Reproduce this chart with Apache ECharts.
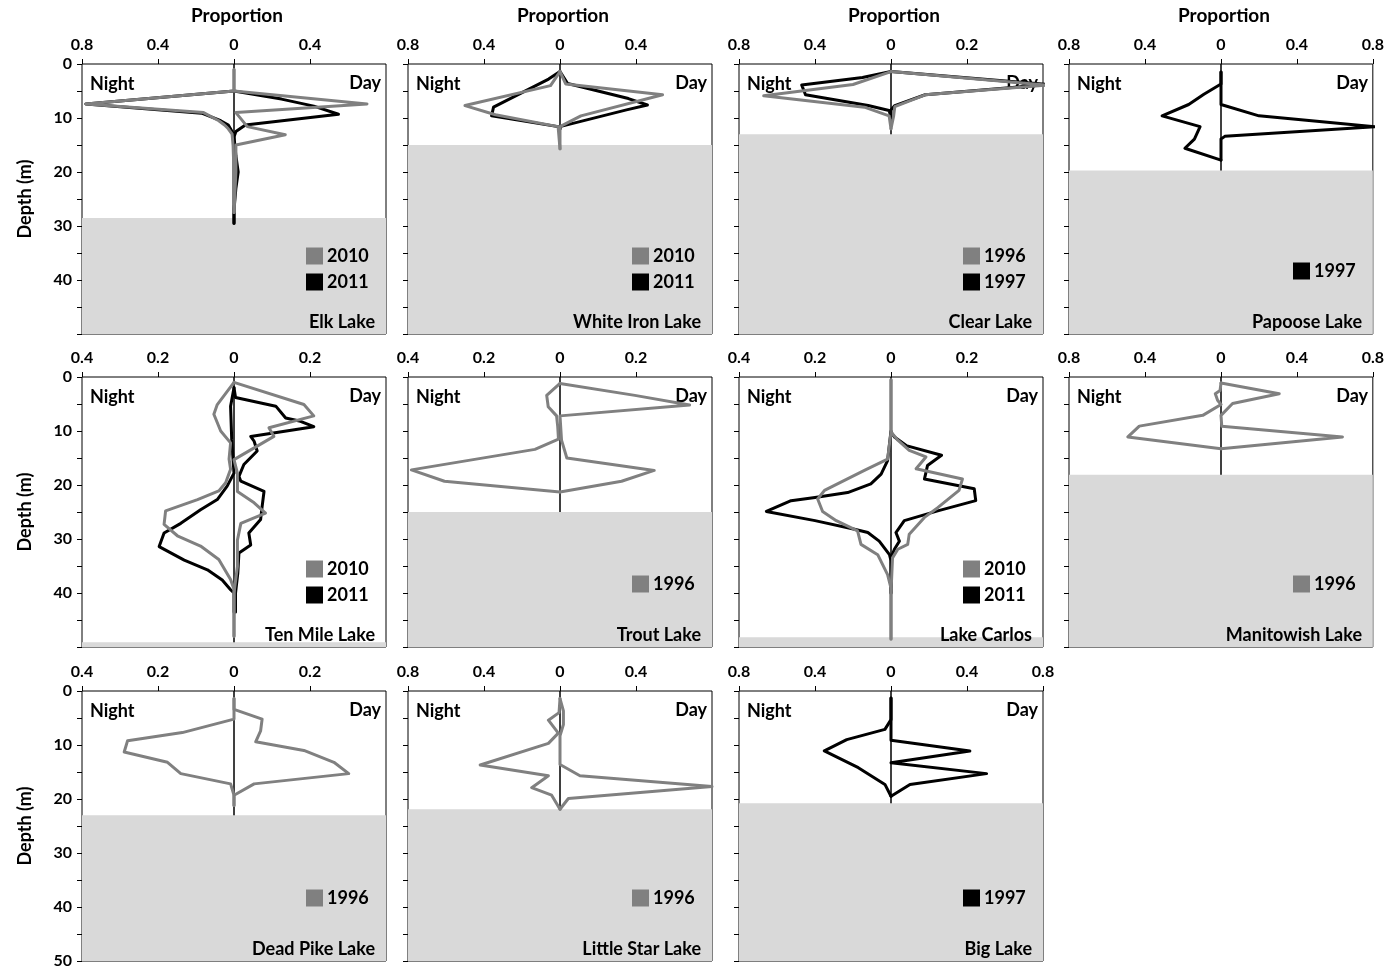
<!DOCTYPE html>
<html><head><meta charset="utf-8">
<script src="https://cdn.jsdelivr.net/npm/echarts@6/dist/echarts.min.js"></script>
<style>html,body{margin:0;padding:0;background:#fff}#chart{width:1387px;height:972px}</style>
</head><body><div id="chart"></div>
<script>
// ---------------- DATA ----------------
// Each profile: [depth (m), proportion]
const lakes = ['Elk Lake','White Iron Lake','Clear Lake','Papoose Lake','Ten Mile Lake','Trout Lake','Lake Carlos','Manitowish Lake','Dead Pike Lake','Little Star Lake','Big Lake'];
const nightMax = [0.8,0.8,0.8,0.8,0.4,0.4,0.4,0.8,0.4,0.8,0.8];
const dayMax   = [0.8,0.8,0.4,0.8,0.4,0.4,0.4,0.8,0.4,0.8,0.8];
const shadedFromDepth = [28.5,15,13,19.7,49.1,25,48.2,18.1,23,21.9,20.8];
const legendYears = [['2010','2011'],['2010','2011'],['1996','1997'],['1997'],['2010','2011'],['1996'],['2010','2011'],['1996'],['1996'],['1996'],['1997']];
const depthTicks = [0,10,20,30,40,50];

const elk2010Night = [[1,0],[5,0],[7.4,0.78],[9,0.16],[10.5,0.08],[11.3,0.05],[12,0.03],[13,0.01],[15,0.005],[20,0],[27.5,0]];
const elk2011Night = [[5,0],[7.4,0.78],[9.1,0.17],[10.5,0.07],[11.3,0.03],[12.5,0.01],[13.5,0],[20,0],[29.5,0]];
const elk2010Day = [[1,0],[5,0],[7.4,0.70],[9,0.01],[11.6,0.07],[13.1,0.27],[15,0.01],[20,0.01],[27.5,0]];
const elk2011Day = [[5,0],[6.5,0.25],[7.8,0.42],[9.3,0.55],[11.3,0.06],[12.5,0.01],[13.5,0],[17,0.01],[20,0.022],[23,0.01],[27,0],[29.5,0]];

const wi2010Night = [[1.4,0],[4,0.05],[7.7,0.5],[9.4,0.34],[11.6,0.01],[15.7,0]];
const wi2011Night = [[1.4,0],[2.8,0.06],[8,0.35],[9.6,0.36],[11.6,0.01],[12,0]];
const wi2010Day = [[1.4,0],[3.7,0.03],[5.7,0.54],[9.6,0.11],[11.6,0],[15.7,0]];
const wi2011Day = [[1.4,0],[3.6,0.04],[6.4,0.36],[7.6,0.46],[8.5,0.35],[11.6,0],[12,0]];

const cl1996Night = [[1.4,0],[3.8,0.2],[5.9,0.67],[8,0.14],[9.6,0.01],[12,0]];
const cl1997Night = [[1.4,0],[2.5,0.15],[3.9,0.47],[5.7,0.45],[7.7,0.12],[8.6,0.01],[9.9,0]];
const cl1996Day = [[1.4,0],[3.9,0.41],[5.7,0.09],[7.9,0.01],[9.6,0.007],[12,0]];
const cl1997Day = [[1.4,0],[3.8,0.41],[5.7,0.09],[7.7,0.01],[8.5,0],[9.9,0]];

const pa1997Night = [[1.5,0],[3.7,0],[5.6,0.09],[7.5,0.17],[9.6,0.31],[11.6,0.11],[13.9,0.14],[15.6,0.19],[17.8,0]];
const pa1997Day = [[1.5,0],[7.5,0],[9.6,0.2],[11.6,0.81],[13.4,0.02],[13.9,0],[17.8,0]];

const tm2010Night = [[1,0],[5.1,0.044],[6.9,0.053],[10,0.035],[12.2,0.009],[15.2,0.013],[17.1,0.009],[19.6,0.022],[21.1,0.04],[22.7,0.096],[24.8,0.18],[27.3,0.184],[29.4,0.149],[31.3,0.088],[33.8,0.04],[37.5,0.009],[39.3,0],[48,0]];
const tm2011Night = [[2,0],[5.4,0.009],[11.6,0.006],[17.8,0],[20.2,0.018],[22.7,0.044],[24.6,0.088],[27.1,0.14],[28.9,0.184],[31.4,0.197],[33.9,0.131],[35.7,0.07],[37.6,0.031],[39.4,0.009],[40,0],[43.5,0]];
const tm2010Day = [[1,0],[5.1,0.184],[7.2,0.21],[9.4,0.092],[11,0.105],[12.8,0.061],[15.3,0],[17.8,0.009],[21.2,0.009],[23.3,0.053],[25.2,0.083],[27.1,0.018],[30.2,0.009],[35.1,0.009],[40,0],[48,0]];
const tm2011Day = [[2,0],[3.8,0.004],[5.4,0.11],[7.6,0.136],[8.2,0.175],[9.2,0.21],[11,0.044],[11.9,0.053],[13.7,0.061],[16.2,0.026],[18.4,0.013],[19.3,0.018],[21.2,0.079],[24,0.074],[26.4,0.07],[28.9,0.039],[31.1,0.044],[32.6,0.013],[36.3,0.01],[40,0.004],[43.5,0.004]];

const tr1996Night = [[1.2,0],[3.4,0.035],[5.5,0.031],[7.2,0.009],[9.2,0.006],[11.5,0.004],[13.4,0.066],[17.2,0.391],[19.3,0.304],[21.3,0]];
const tr1996Day = [[1.2,0],[3.4,0.197],[5.2,0.341],[7.2,0],[11.7,0.004],[15,0.018],[17.3,0.248],[19.3,0.162],[21.3,0]];

const lc2010Night = [[0.5,0],[10.2,0],[15.2,0.009],[17.3,0.07],[21,0.175],[22.6,0.193],[24.9,0.18],[26.6,0.144],[28.5,0.088],[31,0.079],[32.9,0.035],[36.6,0.009],[39.1,0],[48.5,0]];
const lc2011Night = [[10,0],[15.5,0.009],[18,0.026],[19.8,0.053],[21.4,0.114],[22.3,0.2],[22.9,0.263],[24.9,0.328],[26.6,0.2],[28.2,0.096],[28.8,0.061],[30.4,0.031],[32.9,0.004],[34,0],[40,0]];
const lc2010Day = [[0.5,0],[10.2,0],[11.7,0.018],[13.6,0.048],[14.8,0.092],[17,0.066],[18.9,0.188],[21,0.179],[24.2,0.123],[26,0.088],[29.1,0.048],[31,0.044],[31.9,0.018],[33.5,0.004],[40,0],[48.5,0]];
const lc2011Day = [[10.2,0],[11.1,0.009],[12.7,0.04],[14.5,0.133],[16.4,0.096],[18.9,0.088],[20.7,0.219],[22.9,0.223],[24.8,0.123],[26.6,0.035],[28.8,0.013],[30.4,0.022],[31.9,0.009],[33.5,0],[40,0]];

const ma1996Night = [[1.1,0],[2.5,0.005],[3.1,0.03],[4.3,0.018],[5.1,0],[7.1,0.096],[9.1,0.43],[11.1,0.49],[13.3,0]];
const ma1996Day = [[1.1,0],[3.1,0.307],[4.9,0.061],[7.1,0],[9.1,0.004],[11.1,0.64],[13.3,0]];

const dp1996Night = [[1.4,0],[5.2,0],[7.7,0.136],[9.2,0.28],[11.3,0.289],[13.2,0.175],[15.3,0.14],[17.2,0.009],[19.3,0],[21.2,0]];
const dp1996Day = [[1.4,0],[3.4,0],[5.2,0.074],[7.4,0.07],[9.4,0.057],[11,0.184],[13.2,0.263],[15.3,0.302],[17.2,0.053],[19.3,0],[21.2,0]];

const ls1996Night = [[1.4,0],[4,0.005],[5.4,0.061],[7.8,0.009],[9.7,0.061],[13.7,0.42],[15.7,0.061],[17.9,0.149],[19.3,0.044],[21.9,0]];
const ls1996Day = [[1.4,0],[3.7,0.018],[6.2,0.018],[8.3,0],[13.6,0],[15.7,0.105],[17.7,0.8],[19.9,0.044],[21.9,0]];

const bl1997Night = [[1.3,0],[5.3,0],[7.1,0.032],[9,0.233],[11.1,0.351],[14.2,0.172],[17.3,0.032],[19.5,0]];
const bl1997Day = [[1.3,0],[9.1,0],[11.1,0.415],[13.3,0],[15.3,0.503],[17.3,0.1],[19.5,0]];

// profiles per lake (drawn in this order: black years first, grey on top)
const lakeProfiles = [
  [{year:'2011', night:elk2011Night, day:elk2011Day},{year:'2010', night:elk2010Night, day:elk2010Day}],
  [{year:'2011', night:wi2011Night, day:wi2011Day},{year:'2010', night:wi2010Night, day:wi2010Day}],
  [{year:'1997', night:cl1997Night, day:cl1997Day},{year:'1996', night:cl1996Night, day:cl1996Day}],
  [{year:'1997', night:pa1997Night, day:pa1997Day}],
  [{year:'2011', night:tm2011Night, day:tm2011Day},{year:'2010', night:tm2010Night, day:tm2010Day}],
  [{year:'1996', night:tr1996Night, day:tr1996Day}],
  [{year:'2011', night:lc2011Night, day:lc2011Day},{year:'2010', night:lc2010Night, day:lc2010Day}],
  [{year:'1996', night:ma1996Night, day:ma1996Day}],
  [{year:'1996', night:dp1996Night, day:dp1996Day}],
  [{year:'1996', night:ls1996Night, day:ls1996Day}],
  [{year:'1997', night:bl1997Night, day:bl1997Day}]
];

// ---------------- STYLE / LAYOUT ----------------
const yearColor = {'2010':'#808080','1996':'#808080','2011':'#000000','1997':'#000000'};
const FONT = 'Lato';
const colLeft = [82, 408, 739, 1069];
const rowTop = [64, 377, 691];
const PW = 304, PH = 270, HW = 152;
const perRow = [4, 4, 3];

const grid = [], xAxis = [], yAxis = [], series = [], legend = [], graphics = [];
const lblStyle = {fontFamily: FONT, fontWeight: 'bold', fontSize: 16, color: '#000'};

lakes.forEach((lake, i) => {
  const row = Math.floor(i / 4), col = i % 4;
  const L = colLeft[col], T = rowTop[row], R = L + PW, B = T + PH, Z = L + HW;
  const lastInRow = col === perRow[row] - 1;
  const gl = 2 * i, gr = 2 * i + 1;
  const gBase = {top: T, width: HW, height: PH, show: true, borderColor: '#000', borderWidth: 1,
                 backgroundColor: 'rgba(0,0,0,0)', z: 1};
  grid.push(Object.assign({left: L}, gBase));
  grid.push(Object.assign({left: Z}, gBase));

  const xBase = {type: 'value', position: 'top', min: 0, splitLine: {show: false},
                 axisLine: {show: false, onZero: false},
                 axisTick: {show: true, length: 5, lineStyle: {color: '#000', width: 1}}};
  xAxis.push(Object.assign({}, xBase, {gridIndex: gl, max: nightMax[i], interval: nightMax[i] / 2, inverse: true,
    axisLabel: Object.assign({margin: 11, showMinLabel: true, showMaxLabel: true}, lblStyle)}));
  xAxis.push(Object.assign({}, xBase, {gridIndex: gr, max: dayMax[i], interval: dayMax[i] / 2,
    axisLabel: Object.assign({margin: 11, showMinLabel: false, showMaxLabel: lastInRow}, lblStyle)}));

  yAxis.push({gridIndex: gl, type: 'value', min: 0, max: 50, interval: 5, inverse: true, position: 'left',
    splitLine: {show: false}, axisLine: {show: false, onZero: false},
    axisTick: {show: true, length: 5, lineStyle: {color: '#000', width: 1}},
    axisLabel: Object.assign({show: col === 0, margin: 10,
      formatter: v => (depthTicks.indexOf(v) >= 0 && (row === 2 || v < 50)) ? String(v) : ''}, lblStyle),
    name: col === 0 ? 'Depth (m)' : '', nameLocation: 'middle', nameGap: 48, nameRotate: 90,
    nameTextStyle: {fontFamily: FONT, fontWeight: 'bold', fontSize: 18, color: '#000'}});
  yAxis.push({gridIndex: gr, type: 'value', min: 0, max: 50, inverse: true, show: false});

  // shaded (below lake bottom) region in both halves
  [gl, gr].forEach(g => series.push({type: 'line', xAxisIndex: g, yAxisIndex: g, data: [], symbol: 'none',
    silent: true, z: 0, markArea: {silent: true, itemStyle: {color: '#d9d9d9'},
      data: [[{yAxis: shadedFromDepth[i]}, {yAxis: 50}]]}}));

  lakeProfiles[i].forEach(p => {
    const c = yearColor[p.year];
    const common = {type: 'line', name: p.year, symbol: 'none', z: 3, smooth: false,
      lineStyle: {color: c, width: 3, join: 'round', cap: 'round'}, itemStyle: {color: c}};
    series.push(Object.assign({}, common, {xAxisIndex: gl, yAxisIndex: gl, data: p.night.map(d => [d[1], d[0]])}));
    series.push(Object.assign({}, common, {xAxisIndex: gr, yAxisIndex: gr, data: p.day.map(d => [d[1], d[0]])}));
  });

  legend.push({data: legendYears[i], left: R - 80, top: T + (legendYears[i].length === 2 ? 183 : 198),
    orient: 'vertical', icon: 'rect', itemWidth: 17, itemHeight: 17, itemGap: 8, padding: 0,
    selectedMode: false, z: 5,
    textStyle: {fontFamily: FONT, fontWeight: 'bold', fontSize: 18, color: '#000', padding: [0, 0, 0, -1]}});

  const txt = (text, x, y, align, size) => ({type: 'text', x: x, y: y, z: 2, silent: true,
    style: {text: text, fill: '#000', font: 'bold ' + size + 'px ' + FONT,
      align: align, textAlign: align, verticalAlign: 'middle', textVerticalAlign: 'middle'}});
  graphics.push(txt('Night', L + 8, T + 20, 'left', 18));
  graphics.push(txt('Day', R - 5, T + 19, 'right', 18));
  graphics.push(txt(lake, R - 11, B - 12, 'right', 18));
  if (row === 0) graphics.push(txt('Proportion', Z + 3, 16, 'center', 19));
});

const chart = echarts.init(document.getElementById('chart'), null, {renderer: 'canvas'});
chart.setOption({
  animation: false,
  backgroundColor: '#fff',
  grid: grid, xAxis: xAxis, yAxis: yAxis, series: series, legend: legend,
  graphic: {elements: graphics}
});
</script></body></html>
